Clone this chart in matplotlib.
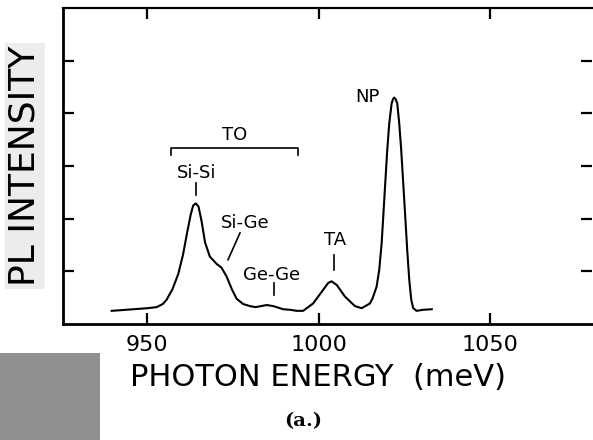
import matplotlib
matplotlib.use("Agg")
import matplotlib.pyplot as plt
from matplotlib.patches import Rectangle

# Spectrum: photon energy (meV) and PL intensity (arb. units)
energy = [939.6, 945.9, 950.0, 952.7, 954.5, 955.6, 957.3, 959.0, 960.4, 961.6,
          962.6, 963.35, 964.1, 964.9, 965.8, 966.8, 968.2, 970.2, 971.6, 973.1,
          974.55, 976.0, 977.9, 979.9, 981.5, 984.8, 986.7, 989.6, 991.6, 993.5,
          995.4, 998.3, 1000.8, 1002.7, 1003.7, 1005.2, 1007.6, 1010.5, 1012.45,
          1014.87, 1015.66, 1016.82, 1017.58, 1018.28, 1018.75, 1019.33, 1019.91,
          1020.50, 1021.20, 1021.6, 1021.95, 1022.35, 1022.83, 1023.41, 1023.99,
          1024.58, 1025.16, 1025.74, 1026.33, 1026.91, 1027.49, 1028.48, 1030.4,
          1032.9]
intensity = [0.25, 0.28, 0.30, 0.32, 0.38, 0.46, 0.66, 0.95, 1.32, 1.74,
             2.07, 2.25, 2.29, 2.23, 1.95, 1.55, 1.28, 1.14, 1.07, 0.90,
             0.67, 0.48, 0.38, 0.34, 0.32, 0.36, 0.34, 0.28, 0.27, 0.25,
             0.25, 0.39, 0.61, 0.78, 0.81, 0.74, 0.52, 0.34, 0.30,
             0.39, 0.49, 0.71, 1.03, 1.53, 2.04, 2.67, 3.30,
             3.81, 4.19, 4.27, 4.30, 4.27, 4.19, 3.81, 3.30,
             2.67, 2.04, 1.40, 0.84, 0.46, 0.30, 0.25, 0.27,
             0.28]

xticks = [950, 1000, 1050]
xtick_labels = ["950", "1000", "1050"]
yticks = [1, 2, 3, 4, 5]

# peak labels: text, text position, marker line
peak_labels = ["Si-Si", "Si-Ge", "Ge-Ge", "TA", "NP"]
label_x = [964.4, 978.4, 986.3, 1004.7, 1014.0]
label_y = [2.87, 1.92, 0.93, 1.59, 4.31]
mark_x0 = [964.1, 977.0, 986.9, 1004.4, None]
mark_y0 = [2.68, 1.73, 0.78, 1.31, None]
mark_x1 = [964.1, 973.5, 986.9, 1004.4, None]
mark_y1 = [2.45, 1.22, 0.55, 1.03, None]

# TO bracket
to_x = [956.85, 993.88]
to_y_top = 3.34
to_y_end = 3.21

fig = plt.figure(figsize=(5.93, 4.40), dpi=100)
ax = fig.add_axes([63/593, 1 - 324/440, (592 - 63)/593, (324 - 8)/440])

ax.plot(energy, intensity, color="black", lw=1.5, solid_joinstyle="round")
ax.set_xlim(925.4, 1079.6)
ax.set_ylim(0, 6)

ax.set_xticks(xticks)
ax.set_xticklabels(xtick_labels, fontsize=16, family="DejaVu Sans")
ax.set_yticks(yticks)
ax.set_yticklabels([])
ax.tick_params(direction="in", length=8, width=1.6, top=True, right=True,
               pad=8, colors="black")
for s in ax.spines.values():
    s.set_linewidth(1.6)
ax.spines["left"].set_linewidth(2.0)
ax.spines["bottom"].set_linewidth(2.0)
ax.spines["right"].set_visible(False)

# annotations
for t, tx, ty, x0, y0, x1, y1 in zip(peak_labels, label_x, label_y,
                                      mark_x0, mark_y0, mark_x1, mark_y1):
    ax.text(tx, ty, t, fontsize=13, ha="center", va="center")
    if x0 is not None:
        ax.plot([x0, x1], [y0, y1], color="black", lw=1.2)

ax.plot([to_x[0], to_x[0], to_x[1], to_x[1]],
        [to_y_end, to_y_top, to_y_top, to_y_end], color="black", lw=1.2)
ax.text((to_x[0] + to_x[1]) / 2, 3.59, "TO", fontsize=13, ha="center", va="center")

fig.text(25/593, 1 - 166/440, "PL INTENSITY", rotation=90, fontsize=26,
         ha="center", va="center",
         bbox=dict(facecolor="#ececec", edgecolor="none", pad=2))
fig.text(318/593, 1 - 377/440, "PHOTON ENERGY  (meV)", fontsize=22,
         ha="center", va="center")
fig.text(303/593, 1 - 421/440, "(a.)", fontsize=14, family="DejaVu Serif",
         weight="bold", ha="center", va="center")

fig.patches.append(Rectangle((0, 0), 100/593, 87/440, transform=fig.transFigure,
                             facecolor="#8f8f8f", edgecolor="none"))

fig.savefig("out.png", dpi=100)
